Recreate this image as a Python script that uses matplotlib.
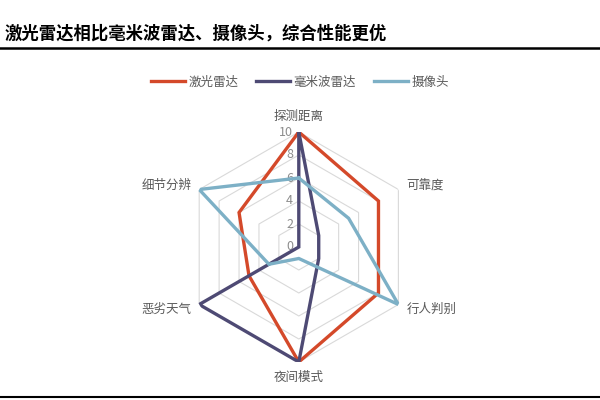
import numpy as np
import matplotlib.pyplot as plt
from matplotlib.lines import Line2D

plt.rcParams['font.family'] = ['Noto Sans CJK SC', 'DejaVu Sans']

# data
categories = ['探测距离', '可靠度', '行人判别', '夜间模式', '恶劣天气', '细节分辨']
lidar = [10, 8, 8, 10, 5, 6]
mmwave = [10, 2, 2, 10, 10, 0]
camera = [6, 5, 10, 1, 3, 10]
series_names = ['激光雷达', '毫米波雷达', '摄像头']
r_ticks = [0, 2, 4, 6, 8, 10]

colors = ['#D4492A', '#4E4A74', '#7DB0C6']
grid_color = '#D9D9D9'
text_color = '#595959'

n = len(categories)
theta = np.linspace(0, 2 * np.pi, n, endpoint=False)
theta_c = np.append(theta, theta[0])

fig = plt.figure(figsize=(6, 4), dpi=100)
ax = fig.add_axes([0.303, 0.095, 0.39, 0.575], projection='polar')
ax.set_theta_zero_location('N')
ax.set_theta_direction(-1)
ax.set_ylim(0, 10)
ax.grid(False)
ax.spines['polar'].set_visible(False)
ax.set_xticks([])
ax.set_yticks([])
ax.patch.set_alpha(0)

# hexagonal grid
for r in r_ticks[1:]:
    ax.plot(theta_c, [r] * (n + 1), color=grid_color, lw=0.8, zorder=1)

# value labels along the top axis
for r in r_ticks:
    ax.annotate(str(r), xy=(0, r), xytext=(-4, 0), textcoords='offset points',
                ha='right', va='center', fontsize=9, color='#8C8C8C')

for vals, c in zip([lidar, mmwave, camera], colors):
    ax.plot(theta_c, vals + vals[:1], color=c, lw=2.4, zorder=3,
            solid_joinstyle='miter')

# category labels
for t, lab in zip(theta, categories):
    s, cth = np.sin(t), np.cos(t)
    if abs(s) < 0.1:
        ha = 'center'
    elif s > 0:
        ha = 'left'
    else:
        ha = 'right'
    va = 'bottom' if cth > 0.9 else ('top' if cth < -0.9 else 'center')
    ax.text(t, 10.8, lab, ha=ha, va=va, fontsize=9, color=text_color,
            clip_on=False)

handles = [Line2D([0], [0], color=c, lw=2.4) for c in colors]
fig.legend(handles, series_names, loc='center', bbox_to_anchor=(0.5, 0.795),
           ncol=3, frameon=False, fontsize=9, labelcolor=text_color,
           handlelength=2.7, columnspacing=1.4, handletextpad=0.3)

fig.text(0.008, 0.917, '激光雷达相比毫米波雷达、摄像头，综合性能更优',
         fontsize=12.5, fontweight='heavy', ha='left', va='center')
fig.add_artist(Line2D([0, 1], [0.88, 0.88], color='black', lw=1.8))
fig.add_artist(Line2D([0, 1], [0.008, 0.008], color='black', lw=1.5))

fig.savefig('out.png', dpi=100)
